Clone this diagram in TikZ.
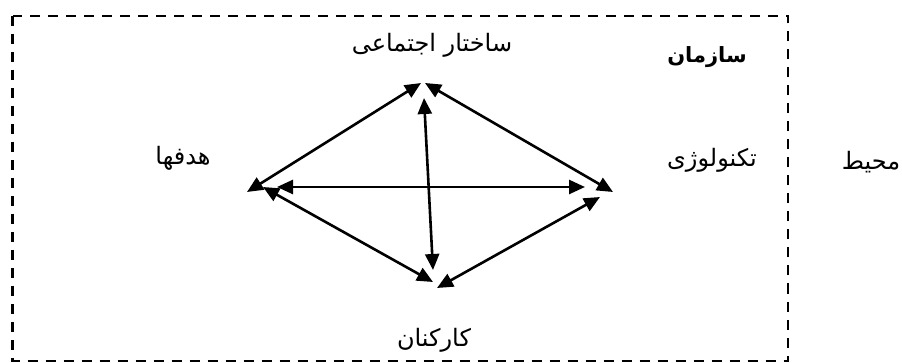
\documentclass[tikz,border=0pt]{standalone}
\usepackage{fontspec}
\usetikzlibrary{arrows.meta}
\TeXXeTstate=1
\newfontfamily\arabicfont[Script=Arabic]{DejaVu Sans}
\begin{document}
\begin{tikzpicture}[x=1pt,y=-1pt,
  lbl/.style={font=\arabicfont\fontsize{24}{28}\selectfont, inner sep=0pt},
  biarrow/.style={line width=2.6pt, {Triangle[length=16pt,width=14pt]}-{Triangle[length=16pt,width=14pt]}},
  frame/.style={line width=2.2pt, dash pattern=on 10pt off 8pt}]
\useasboundingbox (0,0) rectangle (902,363);
\draw[frame] (12.5,16) rectangle (788,361);
% labels
\node[lbl] (sakhtar) at (432,45) {\beginR ساختار اجتماعی\endR};
\node[lbl, font=\arabicfont\bfseries\fontsize{21}{25}\selectfont] (sazman) at (707,57) {\beginR سازمان\endR};
\node[lbl] (hadafha) at (183,158) {\beginR هدفها\endR};
\node[lbl] (tech) at (712,160) {\beginR تکنولوژی\endR};
\node[lbl] (mohit) at (871,162) {\beginR محیط\endR};
\node[lbl] (karkonan) at (434,340) {\beginR کارکنان\endR};
% arrow end points
\coordinate (LT1) at (247,192);
\coordinate (T1) at (421,83);
\coordinate (T2) at (425,83);
\coordinate (R1) at (613,192);
\coordinate (H1) at (277,187);
\coordinate (H2) at (585,187);
\coordinate (V1) at (424,98);
\coordinate (V2) at (433,270);
\coordinate (LB1) at (263,187);
\coordinate (B1) at (433,282);
\coordinate (B2) at (437,288);
\coordinate (R2) at (600,197);
% connectors
\draw[biarrow] (LT1) -- (T1);
\draw[biarrow] (T2) -- (R1);
\draw[biarrow] (H1) -- (H2);
\draw[biarrow] (V1) -- (V2);
\draw[biarrow] (LB1) -- (B1);
\draw[biarrow] (B2) -- (R2);
\end{tikzpicture}
\end{document}
